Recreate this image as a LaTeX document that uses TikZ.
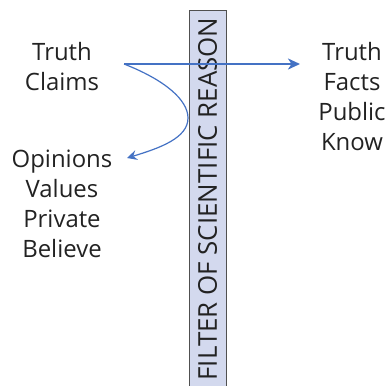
\documentclass[tikz,border=0pt]{standalone}
\usepackage{fontspec}
\setmainfont{Open Sans}
\usetikzlibrary{arrows.meta}
\definecolor{arrowblue}{HTML}{4472C4}
\definecolor{barfill}{HTML}{D3D9EE}
\definecolor{barline}{HTML}{505050}
\definecolor{txt}{HTML}{222222}
\begin{document}
\begin{tikzpicture}[x=1bp,y=-1bp,
  lbl/.style={align=center, text=txt, font=\fontsize{24}{30}\selectfont, inner sep=0pt},
  barbox/.style={fill=barfill, draw=barline, line width=1bp},
  bartext/.style={rotate=90, text=txt, font=\fontsize{26}{30}\selectfont, inner sep=0pt},
  mainarrow/.style={draw=arrowblue, line width=2bp, -{Stealth[length=12bp,width=11bp,inset=3.5bp]}},
  curvearrow/.style={draw=arrowblue, line width=1.2bp, -{Stealth[length=10bp,width=10bp,inset=3.5bp]}}]
\useasboundingbox (0,0) rectangle (387,386);
\path[barbox] (189,10) rectangle (226,392);
\node[bartext] (bar) at (207.5,199) {FILTER OF SCIENTIFIC REASON};
\node[lbl, anchor=north] (claims) at (62,42) {Truth\\Claims};
\node[lbl, anchor=north] (facts) at (352,42) {Truth\\Facts\\Public\\Know};
\node[lbl, anchor=north] (opinions) at (62,150) {Opinions\\Values\\Private\\Believe};
\coordinate (s) at (124,64);
\coordinate (e1) at (300,64);
\coordinate (e2) at (127,158);
\draw[mainarrow] (s) -- (e1);
\draw[curvearrow] (s) .. controls (165,80) and (188,100) .. (188,118) .. controls (188,138) and (160,148) .. (e2);
\end{tikzpicture}
\end{document}
